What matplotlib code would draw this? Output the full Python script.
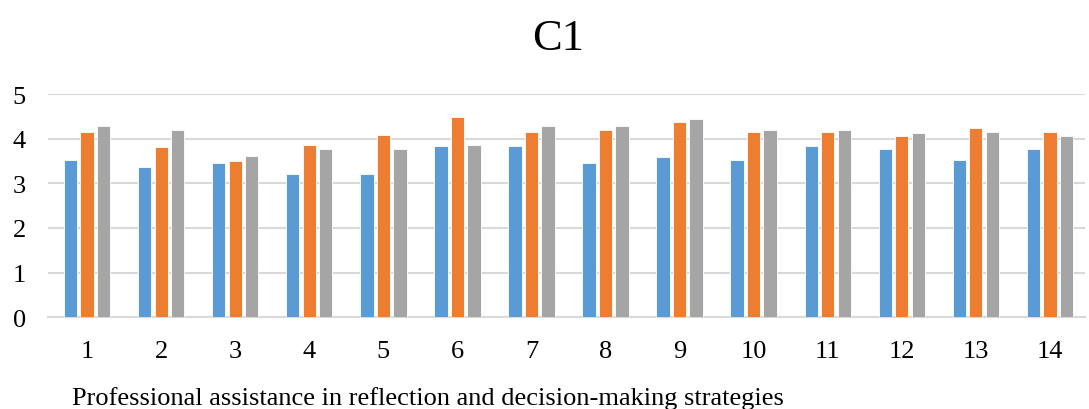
import numpy as np
import matplotlib
matplotlib.use('Agg')
import matplotlib.pyplot as plt

# data
items = [str(i) for i in range(1, 15)]
series_blue = [3.53, 3.37, 3.46, 3.22, 3.22, 3.84, 3.84, 3.46, 3.60, 3.52, 3.84, 3.76, 3.52, 3.76]
series_orange = [4.16, 3.82, 3.50, 3.87, 4.08, 4.49, 4.15, 4.19, 4.38, 4.16, 4.15, 4.07, 4.23, 4.16]
series_gray = [4.29, 4.20, 3.61, 3.78, 3.78, 3.87, 4.28, 4.28, 4.45, 4.20, 4.20, 4.12, 4.16, 4.07]

plt.rcParams['font.family'] = ['Liberation Serif', 'DejaVu Serif']

fig = plt.figure(figsize=(10.89, 4.10), dpi=100)
ax = fig.add_axes([0.044, 0.224, 0.952, 0.544])

x = np.arange(1, len(items) + 1)
width = 0.18
step = 0.223
ax.bar(x - step, series_blue, width, color='#5B9BD5', edgecolor='white', linewidth=0.6, zorder=3)
ax.bar(x, series_orange, width, color='#ED7D31', edgecolor='white', linewidth=0.6, zorder=3)
ax.bar(x + step, series_gray, width, color='#A5A5A5', edgecolor='white', linewidth=0.6, zorder=3)

ax.set_xlim(0.47, 14.47)
ax.set_ylim(0, 5)
ax.set_yticks([0, 1, 2, 3, 4, 5])
ax.set_xticks(x)
ax.set_xticklabels(items)
ax.yaxis.grid(True, color='#D9D9D9', linewidth=1.5, zorder=0)
ax.set_axisbelow(True)
for s in ['top', 'right', 'left']:
    ax.spines[s].set_visible(False)
ax.spines['bottom'].set_color('#D9D9D9')
ax.spines['bottom'].set_linewidth(1.5)
ax.tick_params(axis='both', length=0, labelsize=19, colors='black')
ax.tick_params(axis='x', pad=16.5)
ax.tick_params(axis='y', pad=16)

fig.text(0.512, 0.905, 'C1', ha='center', va='center', fontsize=32)
fig.text(0.066, 0.012, 'Professional assistance in reflection and decision-making strategies',
         ha='left', va='baseline', fontsize=19)

fig.savefig('out.png', dpi=100)
